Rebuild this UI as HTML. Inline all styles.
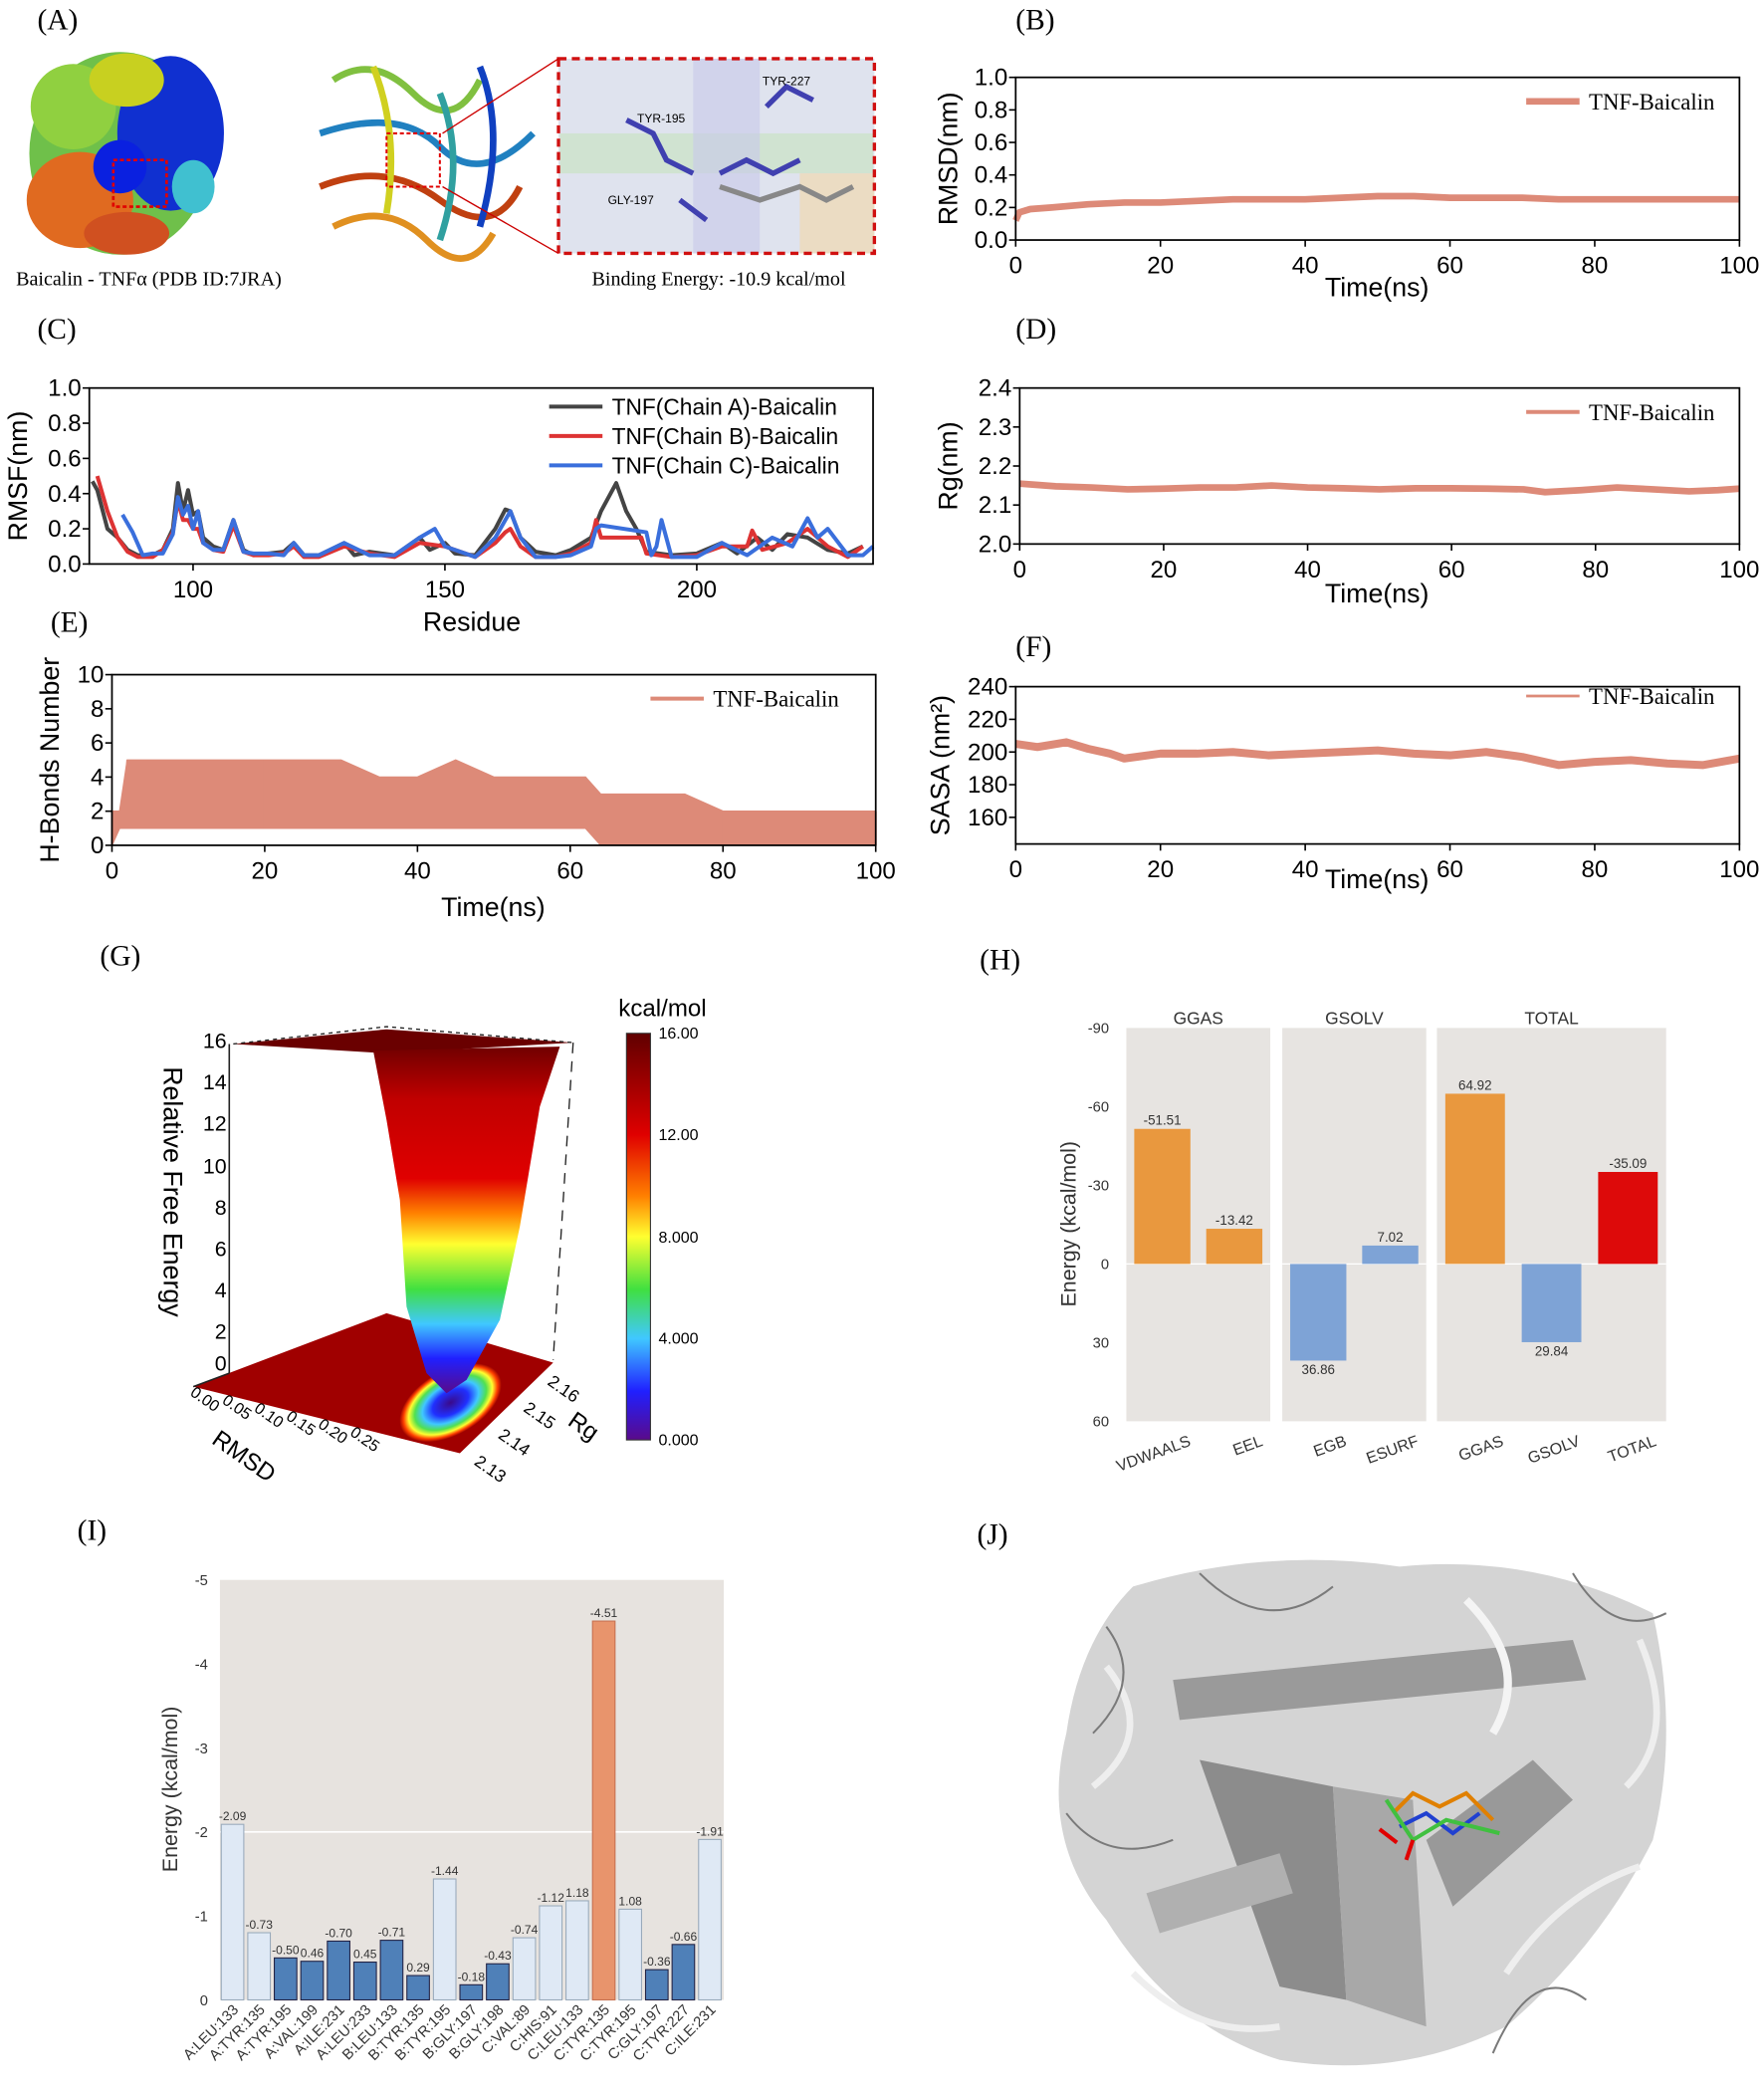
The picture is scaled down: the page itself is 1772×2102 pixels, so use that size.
<!DOCTYPE html>
<html><head><meta charset="utf-8"><style>
html,body{margin:0;padding:0;background:#fff;}
svg{display:block;font-family:"Liberation Sans",Arial,sans-serif;}
.serif{font-family:"Liberation Serif",serif;}
</style></head><body>
<svg id="fig" width="1772" height="2102" viewBox="0 0 1323.4 1569.8" xmlns="http://www.w3.org/2000/svg">
<defs>
<linearGradient id="cbar" x1="0" y1="1" x2="0" y2="0">
<stop offset="0" stop-color="#5a0a8a"/><stop offset="0.12" stop-color="#2020ff"/><stop offset="0.25" stop-color="#40c8ff"/><stop offset="0.37" stop-color="#40e040"/><stop offset="0.5" stop-color="#ffff30"/><stop offset="0.6" stop-color="#ff8000"/><stop offset="0.75" stop-color="#e00000"/><stop offset="1" stop-color="#600000"/></linearGradient>
<linearGradient id="funnel" x1="0" y1="1" x2="0" y2="0">
<stop offset="0" stop-color="#5a0a8a"/><stop offset="0.1" stop-color="#2020ff"/><stop offset="0.2" stop-color="#40c8ff"/><stop offset="0.3" stop-color="#40e040"/><stop offset="0.43" stop-color="#ffff30"/><stop offset="0.52" stop-color="#ff8000"/><stop offset="0.62" stop-color="#e00000"/><stop offset="0.85" stop-color="#c00000"/><stop offset="1" stop-color="#700000"/></linearGradient>
<radialGradient id="well"><stop offset="0" stop-color="#3a0a8a"/><stop offset="0.35" stop-color="#2030ff"/><stop offset="0.55" stop-color="#40c8ff"/><stop offset="0.7" stop-color="#50e050"/><stop offset="0.82" stop-color="#ffff30"/><stop offset="0.92" stop-color="#ff4000"/><stop offset="1" stop-color="#9a0000"/></radialGradient>
</defs>

<!-- Panel A -->
<g>
<text class="serif" x="28" y="22" font-size="22">(A)</text>
<g>
<ellipse cx="90" cy="115" rx="68" ry="76" fill="#6fc04a"/>
<ellipse cx="128" cy="100" rx="40" ry="58" fill="#1030d0"/>
<ellipse cx="60" cy="150" rx="40" ry="36" fill="#e06a20"/>
<ellipse cx="55" cy="80" rx="32" ry="32" fill="#90d040"/>
<ellipse cx="95" cy="60" rx="28" ry="20" fill="#c8d020"/>
<ellipse cx="145" cy="140" rx="16" ry="20" fill="#40c0d0"/>
<ellipse cx="95" cy="175" rx="32" ry="16" fill="#d05020"/>
<ellipse cx="90" cy="125" rx="20" ry="20" fill="#0a20e0"/>
<rect x="85" y="120" width="40" height="35" fill="none" stroke="#e00000" stroke-dasharray="3,2" stroke-width="2"/>
</g>
<g fill="none" stroke-width="5">
<path d="M250 60 Q280 40 310 70 T360 60" stroke="#80c040"/>
<path d="M240 100 Q300 80 330 110 T400 100" stroke="#2080c0"/>
<path d="M240 140 Q290 120 330 150 T390 140" stroke="#c04010"/>
<path d="M250 170 Q290 150 320 180 T370 175" stroke="#e09020"/>
<path d="M280 50 Q300 100 290 160" stroke="#d0d020"/>
<path d="M360 50 Q380 100 360 170" stroke="#1040c0"/>
<path d="M330 70 Q350 120 330 180" stroke="#30a0a0"/>
<rect x="290" y="100" width="40" height="40" stroke="#e00000" stroke-width="1.5" stroke-dasharray="3,2"/>
</g>
<g>
<rect x="419" y="44" width="237" height="146" fill="#dfe3ee"/>
<rect x="420" y="100" width="235" height="30" fill="#c9e2c4" opacity="0.7"/>
<rect x="520" y="44" width="50" height="146" fill="#c8c8ea" opacity="0.6"/>
<rect x="600" y="130" width="56" height="60" fill="#f0d8b0" opacity="0.7"/>
<path d="M470 90 L490 100 L500 120 L520 130 M540 130 L560 120 L580 130 L600 120 M575 80 L590 65 L610 75 M510 150 L530 165" stroke="#4040b0" stroke-width="4" fill="none"/>
<path d="M540 140 L570 150 L600 140 L620 150 L640 140" stroke="#888" stroke-width="4" fill="none"/>
<text x="478" y="92" font-size="9">TYR-195</text>
<text x="572" y="64" font-size="9">TYR-227</text>
<text x="456" y="153" font-size="9">GLY-197</text>
<rect x="419" y="44" width="237" height="146" fill="none" stroke="#d01010" stroke-width="2.5" stroke-dasharray="6,4"/>
<line x1="332" y1="100" x2="419" y2="44" stroke="#c00" stroke-width="1"/>
<line x1="332" y1="140" x2="419" y2="190" stroke="#c00" stroke-width="1"/>
</g>
<text class="serif" x="12" y="214" font-size="15">Baicalin - TNFα (PDB ID:7JRA)</text>
<text class="serif" x="444" y="214" font-size="15">Binding Energy: -10.9 kcal/mol</text>
</g>

<g id="charts"></g>

<!-- Panel G -->
<g>
<text class="serif" x="75" y="724" font-size="22">(G)</text>
<polygon points="145,1040 290,985 415,1022 345,1090" fill="#a00000"/>
<ellipse cx="338" cy="1052" rx="42" ry="24" transform="rotate(-30 338 1052)" fill="url(#well)"/>
<polygon points="175,783 290,772 430,782 290,790" fill="#6a0000"/>
<path d="M280 788 L420 785 L405 830 L390 920 L375 990 L350 1035 L335 1045 L320 1030 L305 980 L300 900 L290 840 Z" fill="url(#funnel)"/>
<path d="M172 783 L172 1030 M172 1030 L145 1040" stroke="#222" stroke-width="1.2" fill="none"/>
<path d="M175 783 L290 770 L430 782" stroke="#222" stroke-width="1" stroke-dasharray="3,3" fill="none"/>
<path d="M430 782 L415 1020" stroke="#222" stroke-width="1" stroke-dasharray="8,6" fill="none"/>
<g font-size="16" text-anchor="end">
<text x="170" y="786">16</text><text x="170" y="817">14</text><text x="170" y="848">12</text><text x="170" y="880">10</text><text x="170" y="911">8</text><text x="170" y="942">6</text><text x="170" y="973">4</text><text x="170" y="1004">2</text><text x="170" y="1028">0</text>
</g>
<text x="0" y="0" font-size="20" transform="translate(123 800) rotate(90)">Relative Free Energy</text>
<g font-size="12">
<text transform="translate(142 1046) rotate(35)">0.00</text><text transform="translate(166 1052) rotate(35)">0.05</text><text transform="translate(190 1058) rotate(35)">0.10</text><text transform="translate(214 1064) rotate(35)">0.15</text><text transform="translate(238 1070) rotate(35)">0.20</text><text transform="translate(262 1076) rotate(35)">0.25</text>
</g>
<text transform="translate(158 1082) rotate(35)" font-size="18">RMSD</text>
<g font-size="13">
<text transform="translate(355 1098) rotate(35)">2.13</text><text transform="translate(373 1078) rotate(35)">2.14</text><text transform="translate(392 1058) rotate(35)">2.15</text><text transform="translate(410 1038) rotate(35)">2.16</text>
</g>
<text transform="translate(425 1068) rotate(35)" font-size="18">Rg</text>
<text x="464" y="762" font-size="18">kcal/mol</text>
<rect x="470" y="775" width="18" height="305" fill="url(#cbar)" stroke="#333" stroke-width="0.8"/>
<g font-size="12">
<text x="494" y="779">16.00</text><text x="494" y="855">12.00</text><text x="494" y="932">8.000</text><text x="494" y="1008">4.000</text><text x="494" y="1084">0.000</text>
</g>
</g>

<!-- Panel J -->
<g>
<text class="serif" x="733" y="1158" font-size="22">(J)</text>
<g>
<path d="M850 1190 Q950 1160 1050 1175 Q1150 1165 1240 1210 Q1260 1300 1240 1380 Q1200 1460 1130 1520 Q1050 1560 960 1545 Q880 1520 830 1440 Q780 1380 800 1300 Q810 1230 850 1190 Z" fill="#d4d4d4"/>
<path d="M880 1260 L1180 1230 L1190 1260 L885 1290 Z" fill="#9a9a9a"/>
<path d="M900 1320 L1000 1340 L1010 1500 L960 1490 Z" fill="#8c8c8c"/>
<path d="M1000 1340 L1060 1350 L1070 1520 L1010 1500 Z" fill="#a8a8a8"/>
<path d="M1070 1380 L1150 1320 L1180 1350 L1090 1430 Z" fill="#999"/>
<path d="M860 1420 L960 1390 L970 1420 L870 1450 Z" fill="#b0b0b0"/>
<path d="M1100 1200 Q1150 1250 1120 1300" stroke="#f4f4f4" stroke-width="6" fill="none"/>
<path d="M830 1250 Q870 1300 820 1340 M1230 1230 Q1260 1300 1220 1340 M850 1480 Q900 1530 960 1520 M1130 1480 Q1170 1420 1230 1400" stroke="#eee" stroke-width="5" fill="none"/>
<path d="M820 1300 Q860 1260 830 1220 M900 1180 Q950 1230 1000 1190 M1180 1180 Q1210 1230 1250 1210 M1190 1500 Q1150 1470 1120 1540 M880 1380 Q830 1400 800 1360" stroke="#7a7a7a" stroke-width="1.5" fill="none"/>
</g>
<g stroke-width="3" fill="none">
<path d="M1045 1360 L1060 1345 L1080 1355 L1100 1345 L1120 1365" stroke="#e08000"/>
<path d="M1050 1370 L1070 1360 L1090 1375 L1110 1360" stroke="#2040d0"/>
<path d="M1040 1350 L1060 1380 L1085 1365 L1125 1375" stroke="#40c040"/>
<path d="M1035 1372 L1048 1382 M1055 1395 L1060 1380" stroke="#e00000"/>
</g>
</g>
</svg>

<script>
// ---------- data ----------
const timeB = [0,0.5,2,5,10,15,20,25,30,35,40,45,50,55,60,65,70,75,80,85,90,95,100];
const rmsdB = [0.12,0.17,0.19,0.2,0.22,0.23,0.23,0.24,0.25,0.25,0.25,0.26,0.27,0.27,0.26,0.26,0.26,0.25,0.25,0.25,0.25,0.25,0.25];
const timeD = [0,2,5,10,15,20,25,30,35,40,45,50,55,60,65,70,73,78,83,88,93,97,100];
const rgD = [2.155,2.152,2.148,2.145,2.14,2.142,2.145,2.145,2.15,2.145,2.143,2.14,2.143,2.143,2.142,2.14,2.133,2.138,2.145,2.14,2.135,2.138,2.142];
const timeF = [0,3,7,10,13,15,20,25,30,35,40,45,50,55,60,65,70,75,80,85,90,95,100];
const sasaF = [205,203,206,202,199,196,199,199,200,198,199,200,201,199,198,200,197,192,194,195,193,192,196];
const timeE = [0,1,2,6,10,15,20,25,30,35,40,45,50,55,60,62,64,66,70,75,80,85,90,95,100];
const hbHigh = [2,2,5,5,5,5,5,5,5,4,4,5,4,4,4,4,3,3,3,3,2,2,2,2,2];
const hbLow = [0,1,1,1,1,1,1,1,1,1,1,1,1,1,1,1,0,0,0,0,0,0,0,0,0];
const resA = [80,81,83,85,87,89,92,94,96,97,98,99,100,101,102,104,106,108,110,112,115,118,120,122,125,130,132,135,140,145,147,150,152,156,160,162,163,165,168,172,175,179,181,184,186,188,190,195,200,205,208,212,215,218,222,226,230,233];
const rmsfA = [0.47,0.42,0.2,0.15,0.08,0.05,0.05,0.08,0.2,0.46,0.3,0.42,0.28,0.3,0.15,0.1,0.08,0.25,0.08,0.05,0.06,0.07,0.12,0.05,0.05,0.12,0.05,0.07,0.05,0.15,0.08,0.12,0.06,0.05,0.2,0.31,0.3,0.15,0.07,0.05,0.08,0.15,0.3,0.46,0.3,0.2,0.07,0.05,0.06,0.12,0.06,0.15,0.08,0.17,0.15,0.08,0.06,0.1];
const resB = [81,83,85,87,89,92,94,96,97,98,99,100,101,102,104,106,108,110,112,115,118,120,122,125,130,135,140,145,150,156,160,162,163,165,168,172,175,179,180,181,189,190,195,200,205,210,211,213,218,222,226,230,233];
const rmsfB = [0.5,0.3,0.15,0.07,0.04,0.04,0.08,0.18,0.36,0.25,0.25,0.2,0.2,0.12,0.08,0.07,0.22,0.07,0.05,0.05,0.06,0.1,0.04,0.04,0.1,0.06,0.04,0.12,0.1,0.04,0.12,0.18,0.2,0.1,0.04,0.04,0.06,0.12,0.25,0.15,0.15,0.06,0.04,0.05,0.1,0.1,0.19,0.08,0.12,0.2,0.1,0.04,0.1];
const resC = [86,88,90,92,94,96,97,98,99,100,101,102,104,106,108,110,112,115,118,120,122,125,130,135,140,145,148,150,156,160,162,163,165,168,172,175,179,180,181,190,191,192,193,195,200,205,210,215,219,222,224,226,230,233,235];
const rmsfC = [0.28,0.18,0.05,0.06,0.06,0.17,0.38,0.28,0.33,0.2,0.3,0.12,0.08,0.08,0.25,0.07,0.06,0.06,0.05,0.12,0.05,0.05,0.12,0.05,0.05,0.15,0.2,0.1,0.04,0.15,0.25,0.3,0.15,0.04,0.04,0.05,0.1,0.2,0.22,0.18,0.05,0.1,0.25,0.04,0.04,0.12,0.05,0.15,0.1,0.26,0.15,0.2,0.05,0.05,0.1];
const hCats = ['VDWAALS','EEL','EGB','ESURF','GGAS','GSOLV','TOTAL'];
const hVals = [-51.51,-13.42,36.86,-7.02,-64.92,29.84,-35.09];
const hLabels = ['-51.51','-13.42','36.86','7.02','64.92','29.84','-35.09'];
const hFacet = [0,0,1,1,2,2,2];
const hColor = ['o','o','b','b','o','b','r'];
const hTicks = [-90,-60,-30,0,30,60];
const hTickLabels = ['-90','-60','-30','0','30','60'];
const iCats = ['A:LEU:133','A:TYR:135','A:TYR:195','A:VAL:199','A:ILE:231','A:LEU:233','B:LEU:133','B:TYR:135','B:TYR:195','B:GLY:197','B:GLY:198','C:VAL:89','C:HIS:91','C:LEU:133','C:TYR:135','C:TYR:195','C:GLY:197','C:TYR:227','C:ILE:231'];
const iVals = [-2.09,-0.8,-0.5,-0.46,-0.7,-0.45,-0.71,-0.29,-1.44,-0.18,-0.43,-0.74,-1.12,-1.18,-4.51,-1.08,-0.36,-0.66,-1.91];
const iLabels = ['-2.09','-0.73','-0.50','0.46','-0.70','0.45','-0.71','0.29','-1.44','-0.18','-0.43','-0.74','-1.12','1.18','-4.51','1.08','-0.36','-0.66','-1.91'];
const iType = ['l','l','d','d','d','d','d','d','l','d','d','l','l','l','o','l','d','d','l'];

// ---------- helpers ----------
const NS='http://www.w3.org/2000/svg';
const root=document.getElementById('charts');
function mk(tag,attrs,parent){const e=document.createElementNS(NS,tag);for(const k in attrs)e.setAttribute(k,attrs[k]);(parent||root).appendChild(e);return e;}
function txt(s,attrs,parent){const e=mk('text',attrs,parent);e.textContent=s;return e;}
function scale(d0,d1,r0,r1){return v=>r0+(v-d0)*(r1-r0)/(d1-d0);}

function lineChart(cfg){
  const g=mk('g',{});
  
  
  const sx=scale(cfg.xd[0],cfg.xd[1],cfg.b[0],cfg.b[1]);
  const sy=scale(cfg.yd[0],cfg.yd[1],cfg.b[3],cfg.b[2]);
  const lab=txt(cfg.label,{x:cfg.labelPos[0],y:cfg.labelPos[1],'font-size':22,class:'serif'},g);
  
  
  cfg.series.forEach(s=>{
    if(s.fill){
      let pts=s.x.map((v,i)=>sx(v)+','+sy(s.hi[i]));
      pts=pts.concat(s.x.map((v,i)=>sx(v)+','+sy(s.lo[i])).reverse());
      const p=mk('polygon',{points:pts.join(' '),fill:s.color,stroke:s.color,'stroke-width':1},g);
      
      
      s.x.forEach((v,i)=>{const l=mk('line',{x1:sx(v),x2:sx(v),y1:sy(s.lo[i]),y2:sy(s.hi[i]),stroke:s.color,'stroke-width':1.5},g);
        
        });
    } else {
      const d=s.x.map((v,i)=>(i?'L':'M')+sx(v).toFixed(1)+' '+sy(s.y[i]).toFixed(1)).join(' ');
      const p=mk('path',{d:d,fill:'none',stroke:s.color,'stroke-width':s.w,'stroke-linejoin':'round'},g);
      
      
    }
  });
  const fr=mk('rect',{x:cfg.b[0],y:cfg.b[2],width:cfg.b[1]-cfg.b[0],height:cfg.b[3]-cfg.b[2],fill:'none',stroke:'#000','stroke-width':1.3},g);
  
  
  cfg.xt.forEach(v=>{
    const x=sx(v);
    mk('line',{x1:x,x2:x,y1:cfg.b[3],y2:cfg.b[3]+5,stroke:'#000','stroke-width':1.2},g);
    const t=txt(String(v),{x:x,y:cfg.b[3]+25,'font-size':18,'text-anchor':'middle'},g);
    
    
  });
  cfg.yt.forEach(v=>{
    const y=sy(v);
    mk('line',{x1:cfg.b[0]-5,x2:cfg.b[0],y1:y,y2:y,stroke:'#000','stroke-width':1.2},g);
    const t=txt(cfg.yfmt(v),{x:cfg.b[0]-6,y:y+6,'font-size':18,'text-anchor':'end'},g);
    
    
  });
  const xt=txt(cfg.xtitle,{x:cfg.xtitlePos[0],y:cfg.xtitlePos[1],'font-size':20,'text-anchor':'middle'},g);
  
  
  const yc=(cfg.b[2]+cfg.b[3])/2;
  const yt=txt(cfg.ytitle,{x:0,y:0,'font-size':20,'text-anchor':'middle',transform:`translate(${cfg.ytitleX} ${yc}) rotate(-90)`},g);
  
  
  cfg.legend.forEach((L,i)=>{
    const y=L.y;
    const ln=mk('line',{x1:L.x,x2:L.x+40,y1:y,y2:y,stroke:L.color,'stroke-width':L.w},g);
    
    
    const t=txt(L.text,{x:L.x+47,y:y+6,'font-size':L.fs,class:L.serif?'serif':''},g);
    
    
  });
}
const SAL='#dd8a78';
const f1=v=>v.toFixed(1);
lineChart({name:'panel-b-rmsd',label:'(B)',labelPos:[762,22],b:[762,1305,58,180],xd:[0,100],yd:[0,1],
 xt:[0,20,40,60,80,100],yt:[0,0.2,0.4,0.6,0.8,1.0],yfmt:f1,xtitle:'Time(ns)',xtitlePos:[1033,222],ytitle:'RMSD(nm)',ytitleX:718,
 series:[{name:'rmsd-line',x:timeB,y:rmsdB,color:SAL,w:5}],legend:[{x:1145,y:76,color:SAL,w:5,text:'TNF-Baicalin',fs:17,serif:true}]});
lineChart({name:'panel-c-rmsf',label:'(C)',labelPos:[28,254],b:[67,655,291,423],xd:[79.4,235],yd:[0,1],
 xt:[100,150,200],yt:[0,0.2,0.4,0.6,0.8,1.0],yfmt:f1,xtitle:'Residue',xtitlePos:[354,473],ytitle:'RMSF(nm)',ytitleX:20,
 series:[{name:'rmsf-chain-a',x:resA,y:rmsfA,color:'#444',w:3},{name:'rmsf-chain-b',x:resB,y:rmsfB,color:'#dd3333',w:3},{name:'rmsf-chain-c',x:resC,y:rmsfC,color:'#3a6fdc',w:3}],
 legend:[{x:412,y:305,color:'#444',w:3,text:'TNF(Chain A)-Baicalin',fs:17},{x:412,y:327,color:'#dd3333',w:3,text:'TNF(Chain B)-Baicalin',fs:17},{x:412,y:349,color:'#3a6fdc',w:3,text:'TNF(Chain C)-Baicalin',fs:17}]});
lineChart({name:'panel-d-rg',label:'(D)',labelPos:[762,254],b:[765,1305,291,408],xd:[0,100],yd:[2.0,2.4],
 xt:[0,20,40,60,80,100],yt:[2.0,2.1,2.2,2.3,2.4],yfmt:f1,xtitle:'Time(ns)',xtitlePos:[1033,452],ytitle:'Rg(nm)',ytitleX:718,
 series:[{name:'rg-line',x:timeD,y:rgD,color:SAL,w:5}],legend:[{x:1145,y:309,color:SAL,w:3,text:'TNF-Baicalin',fs:17,serif:true}]});
lineChart({name:'panel-e-hbonds',label:'(E)',labelPos:[38,474],b:[84,657,506,634],xd:[0,100],yd:[0,10],
 xt:[0,20,40,60,80,100],yt:[0,2,4,6,8,10],yfmt:v=>String(v),xtitle:'Time(ns)',xtitlePos:[370,687],ytitle:'H-Bonds Number',ytitleX:44,
 series:[{name:'hbond-band',fill:true,x:timeE,hi:hbHigh,lo:hbLow,color:SAL}],legend:[{x:488,y:524,color:SAL,w:3,text:'TNF-Baicalin',fs:17,serif:true}]});
lineChart({name:'panel-f-sasa',label:'(F)',labelPos:[762,492],b:[762,1305,515,633],xd:[0,100],yd:[143.7,240],
 xt:[0,20,40,60,80,100],yt:[160,180,200,220,240],yfmt:v=>String(v),xtitle:'Time(ns)',xtitlePos:[1033,666],ytitle:'SASA (nm²)',ytitleX:712,
 series:[{name:'sasa-line',x:timeF,y:sasaF,color:SAL,w:6}],legend:[{x:1145,y:522,color:SAL,w:2,text:'TNF-Baicalin',fs:17,serif:true}]});

// ---------- Panel H ----------
(function(){
  const g=mk('g',{});
  
  
  const l=txt('(H)',{x:735,y:727,'font-size':22,class:'serif'},g);
  
  
  const facets=[[845,953,'GGAS'],[962,1070,'GSOLV'],[1078,1250,'TOTAL']];
  const sy=scale(-90,60,771,1066);
  facets.forEach(f=>{
    const r=mk('rect',{x:f[0],y:771,width:f[1]-f[0],height:295,fill:'#e7e4e1'},g);
    
    
    mk('line',{x1:f[0],x2:f[1],y1:sy(0),y2:sy(0),stroke:'#fff','stroke-width':1},g);
    const t=txt(f[2],{x:(f[0]+f[1])/2,y:768,'font-size':13,'text-anchor':'middle',fill:'#333'},g);
    
    
  });
  hTicks.forEach((v,i)=>{
    const t=txt(hTickLabels[i],{x:832,y:sy(v)+4,'font-size':11,'text-anchor':'end',fill:'#333'},g);
    
    
  });
  const yt=txt('Energy (kcal/mol)',{x:0,y:0,'font-size':16,'text-anchor':'middle',fill:'#333',transform:'translate(807 918) rotate(-90)'},g);
  
  
  const col={o:'#e9983e',b:'#7ea3d6',r:'#dd0a0a'};
  const counts=[0,0,0];
  hCats.forEach((c,i)=>{
    const f=facets[hFacet[i]];
    const n=hFacet.filter(v=>v===hFacet[i]).length;
    const k=counts[hFacet[i]]++;
    const slot=(f[1]-f[0])/n;
    const x=f[0]+slot*k+slot*0.11;
    const w=slot*0.78;
    const y0=sy(0),y1=sy(hVals[i]);
    const b=mk('rect',{x:x,y:Math.min(y0,y1),width:w,height:Math.abs(y1-y0),fill:col[hColor[i]]},g);
    
    
    const ly=hVals[i]<0?y1-3:y1+10;
    const t=txt(hLabels[i],{x:x+w/2,y:ly,'font-size':10,'text-anchor':'middle',fill:'#333'},g);
    
    
    const xl=txt(c,{x:0,y:0,'font-size':12,'text-anchor':'end',fill:'#333',transform:`translate(${x+w/2+22} ${1084}) rotate(-20)`},g);
    
    
  });
})();

// ---------- Panel I ----------
(function(){
  const g=mk('g',{});
  
  
  const l=txt('(I)',{x:58,y:1155,'font-size':22,class:'serif'},g);
  
  
  const sy=scale(-5,0,1185,1500);
  const bg=mk('rect',{x:165,y:1185,width:378,height:315,fill:'#e7e3df'},g);
  
  
  mk('line',{x1:165,x2:543,y1:sy(-2),y2:sy(-2),stroke:'#fff','stroke-width':1.2},g);
  [-5,-4,-3,-2,-1,0].forEach(v=>{
    const t=txt(String(v),{x:156,y:sy(v)+4,'font-size':11,'text-anchor':'end',fill:'#333'},g);
    
    
  });
  const yt=txt('Energy (kcal/mol)',{x:0,y:0,'font-size':16,'text-anchor':'middle',fill:'#333',transform:'translate(133 1342) rotate(-90)'},g);
  
  
  const fillc={l:'#dfe9f5',d:'#4f80b8',o:'#e8946c'};
  const strokec={l:'#9ab',d:'#224',o:'#c67050'};
  const pitch=378/iCats.length;
  iCats.forEach((c,i)=>{
    const x=165+pitch*i+1,w=pitch-3;
    const y0=sy(0),y1=sy(iVals[i]);
    const b=mk('rect',{x:x,y:y1,width:w,height:y0-y1,fill:fillc[iType[i]],stroke:strokec[iType[i]],'stroke-width':0.8},g);
    
    
    const t=txt(iLabels[i],{x:x+w/2,y:y1-3,'font-size':9,'text-anchor':'middle',fill:'#333'},g);
    
    
    const xl=txt(c,{x:0,y:0,'font-size':11,'text-anchor':'end',fill:'#333',transform:`translate(${x+w/2+5} ${1508}) rotate(-45)`},g);
    
    
  });
})();
</script>
</body></html>
